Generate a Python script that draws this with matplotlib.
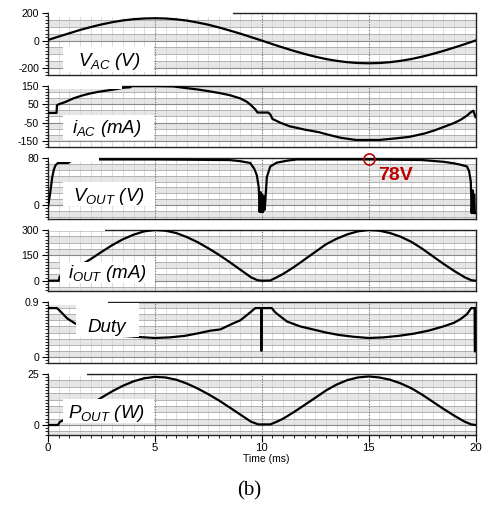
import matplotlib
matplotlib.use("Agg")
import matplotlib.pyplot as plt
import numpy as np
from matplotlib.patches import Rectangle

plt.rcParams["font.family"] = ["Liberation Sans", "DejaVu Sans"]
plt.rcParams["mathtext.fontset"] = "custom"
plt.rcParams["mathtext.it"] = "Liberation Sans:italic"
plt.rcParams["mathtext.rm"] = "Liberation Sans"

# ---- waveforms (time in ms) ----
t_vac = [0, 0.5, 1, 1.5, 2, 2.5, 3, 3.5, 4, 4.5, 5, 5.5, 6, 6.5, 7, 7.5, 8, 8.5, 9, 9.5,
         10, 10.5, 11, 11.5, 12, 12.5, 13, 13.5, 14, 14.5, 15, 15.5, 16, 16.5, 17, 17.5,
         18, 18.5, 19, 19.5, 20]
v_ac = [4, 29, 53, 77, 98, 117, 133, 146, 155, 160, 162, 160, 154, 145, 131, 115, 95, 73, 50, 25,
        0, -26, -51, -75, -97, -117, -134, -147, -157, -163, -165, -163, -157, -147, -134, -117,
        -97, -75, -51, -26, 0]

t_iac = [0, 0.4, 0.42, 0.5, 0.8, 1.2, 1.6, 2.0, 2.4, 2.8, 3.2, 3.5, 3.85, 3.9, 4.5, 5.0, 5.5,
         5.85, 6.3, 7.0, 7.5, 8.0, 8.5, 9.0, 9.3, 9.5, 9.7, 9.8, 10.0, 10.3, 10.4, 10.5, 10.9,
         11.3, 12.0, 12.7, 13.0, 13.7, 14.4, 15.5, 16.2, 16.9, 17.6, 18.1, 18.6, 19.0, 19.3,
         19.6, 19.76, 19.9, 20]
i_ac = [3, 3, 45, 50, 62, 83, 98, 110, 119, 126, 133, 140, 143, 150, 150, 150, 149,
        148, 141, 131, 122, 112, 100, 82, 64, 45, 22, 5, 5, 5, -5, -30, -52,
        -70, -88, -103, -113, -133, -145, -145, -137, -128, -110, -92, -70, -52, -35,
        -12, 5, 15, -20]

t_vout = [0, 0.1, 0.2, 0.27, 0.35, 0.47, 0.94, 1.1, 2.4, 5, 8.5, 9.0, 9.46, 9.65, 9.77, 9.86,
          9.9, 9.94, 9.98, 10.02, 10.06, 10.1, 10.14, 10.24, 10.4, 10.7, 11.2, 11.65, 15,
          17.5, 18.5, 18.97, 19.3, 19.6, 19.7, 19.78, 19.82, 19.86, 19.9, 19.94, 19.97, 20]
v_out = [-3, 20, 48, 60, 68, 72, 72, 76, 78, 78, 77, 75, 72, 62, 51, 30,
         -12, 22, -12, 18, -12, 15, -8, 48, 66, 72.5, 76, 78, 78,
         77, 74, 71.5, 69, 66, 58, 40, -14, 25, -14, 18, -14, -14]

t_iout = [0, 0.5, 0.55, 1.0, 1.5, 2.0, 2.5, 3.0, 3.5, 4.0, 4.5, 5.0, 5.5, 6.0, 6.5, 7.0, 7.5,
          8.0, 8.5, 9.0, 9.5, 9.8, 10.0, 10.4, 10.7, 11.0, 11.5, 12.0, 12.5, 13.0, 13.5, 14.0,
          14.5, 15.0, 15.5, 16.0, 16.5, 17.0, 17.5, 18.0, 18.5, 19.0, 19.5, 19.8, 20]
i_out = [0, 0, 25, 55, 90, 128, 170, 210, 245, 272, 292, 300, 296, 282, 258, 228, 192,
         153, 110, 65, 20, 3, 0, 1, 20, 40, 80, 125, 170, 215, 248, 274,
         292, 300, 296, 282, 260, 230, 190, 145, 100, 58, 20, 3, 0]

t_duty = [0, 0.42, 0.6, 0.9, 1.26, 1.8, 2.3, 2.8, 3.5, 4.3, 5.0, 5.7, 6.4, 7.0, 7.6, 8.06, 8.6,
          9.0, 9.46, 9.7, 9.97, 9.98, 10.0, 10.47, 10.63, 11.18, 11.8, 12.4, 13.0, 13.6, 14.3,
          15.0, 15.7, 16.4, 17.1, 17.8, 18.5, 19.0, 19.3, 19.6, 19.8, 19.96, 19.97, 19.99, 20]
duty = [0.8, 0.8, 0.74, 0.63, 0.55, 0.47, 0.41, 0.375, 0.345, 0.325, 0.31, 0.32, 0.345, 0.385,
        0.43, 0.45, 0.54, 0.6, 0.73, 0.8, 0.8, 0.1, 0.8, 0.8, 0.73, 0.58, 0.5, 0.45, 0.4, 0.36,
        0.33, 0.31, 0.32, 0.345, 0.38, 0.43, 0.5, 0.56, 0.62, 0.7, 0.8, 0.8, 0.09, 0.09, 0.8]

t_pout = [0, 0.47, 0.55, 1.0, 1.5, 2.0, 2.5, 3.0, 3.5, 4.0, 4.5, 5.0, 5.5, 6.0, 6.5, 7.0, 7.5,
          8.0, 8.5, 9.0, 9.5, 9.84, 10.4, 10.7, 11.0, 11.5, 12.0, 12.5, 13.0, 13.5, 14.0, 14.5,
          15.0, 15.5, 16.0, 16.5, 17.0, 17.5, 18.0, 18.5, 19.0, 19.5, 19.8, 20]
p_out = [0, 0, 1.5, 3.8, 6.8, 10, 13.4, 16.5, 19.2, 21.4, 22.9, 23.6, 23.3, 22.2, 20.3, 17.9, 15.1,
         12, 8.6, 5.1, 1.6, 0.3, 0.3, 1.6, 3.1, 6.3, 9.8, 13.3, 16.9, 19.8, 22, 23.3,
         23.8, 23.3, 22.2, 20.4, 18, 14.9, 11.4, 7.9, 4.6, 1.6, 0.3, 0]

x_ticks = [0, 5, 10, 15, 20]

# ---- layout (pixels of a 488x505 image) ----
W, H = 488, 505
X0, X1 = 48, 475.5

panels = [
    dict(t=t_vac, y=v_ac, top=13, bot=75, ylim=(-211, 200), ticks=[200, 0, -200], step=50,
         label=r"$V_{AC}$ (V)", box=(63, 47, 154, 72), txt=(78, 66), cover=(49, 5, 233, 17)),
    dict(t=t_iac, y=i_ac, top=86, bot=147, ylim=(-155, 150), ticks=[150, 50, -50, -150],
         step=100 / 3, label=r"$i_{AC}$ (mA)", box=(63, 115, 154, 140), txt=(72, 133),
         cover=(49, 79, 122, 89)),
    dict(t=t_vout, y=v_out, top=158, bot=219, ylim=(-24, 80.5), ticks=[80, 0], step=10,
         label=r"$V_{OUT}$ (V)", box=(63, 182, 155, 206), txt=(73, 201), cover=(49, 151, 99, 162)),
    dict(t=t_iout, y=i_out, top=230, bot=291, ylim=(-61, 300), ticks=[300, 150, 0], step=37.5,
         label=r"$i_{OUT}$ (mA)", box=(60, 262, 155, 283), txt=(68, 278), cover=(49, 223, 105, 231)),
    dict(t=t_duty, y=duty, top=302, bot=363, ylim=(-0.02, 0.9), ticks=[0.9, 0], step=0.1,
         label="Duty", box=(76, 303, 139, 337), txt=(87, 331.5), cover=(49, 295, 108, 305)),
    dict(t=t_pout, y=p_out, top=374, bot=435, ylim=(-4.9, 25), ticks=[25, 0], step=3.125,
         label=r"$P_{OUT}$ (W)", box=(63, 399, 154, 423), txt=(68, 418), cover=(49, 367, 87, 376)),
]

fig = plt.figure(figsize=(W / 100, H / 100), dpi=100)


def frect(x0, y0, x1, y1, z):
    r = Rectangle((x0 / W, 1 - y1 / H), (x1 - x0) / W, (y1 - y0) / H,
                  transform=fig.transFigure, fc="white", ec="none", zorder=z)
    fig.patches.append(r)


axes = []
for k, p in enumerate(panels):
    ax = fig.add_axes([X0 / W, 1 - p["bot"] / H, (X1 - X0) / W, (p["bot"] - p["top"]) / H])
    lo, hi = p["ylim"]
    ax.set_xlim(0, 20)
    ax.set_ylim(lo, hi)

    # striped background + grid
    base = p["ticks"][-1]
    n0 = int(np.floor((lo - base) / p["step"])) - 1
    n1 = int(np.ceil((hi - base) / p["step"])) + 1
    for n in range(n0, n1):
        y0 = base + n * p["step"]
        if n % 2 == 0:
            ax.axhspan(y0, y0 + p["step"], color="#e6e6e6", lw=0, zorder=0)
        ax.axhline(y0, color="#a8a8a8", lw=0.6, zorder=0.5)
    for tm in np.arange(0.5, 20, 0.5):
        ax.axvline(tm, color="#d6d6d6", lw=0.6, zorder=0.4)
    for yt in p["ticks"]:
        ax.axhline(yt, color="#8a8a8a", lw=0.8, zorder=0.6)
    for tm in [5, 10, 15]:
        ax.axvline(tm, color="#7a7a7a", lw=0.8, ls=(0, (1, 1.5)), zorder=0.7)

    ax.plot(p["t"], p["y"], color="black", lw=1.6, zorder=3)

    ax.set_yticks(p["ticks"])
    ax.set_yticklabels([("%g" % v) for v in p["ticks"]], fontsize=7.6)
    ax.set_yticks(np.arange(base + n0 * p["step"] / 2, hi, p["step"] / 2), minor=True)
    ax.tick_params(axis="y", which="major", direction="out", length=4, width=0.8, pad=2.5)
    ax.tick_params(axis="y", which="minor", direction="out", length=2, width=0.6)
    for s in ax.spines.values():
        s.set_linewidth(1.0)
        s.set_color("#222222")

    if k < len(panels) - 1:
        ax.set_xticks([])
    else:
        ax.set_xticks(x_ticks)
        ax.set_xticks(np.arange(0, 20.01, 0.5), minor=True)
        ax.tick_params(axis="x", which="major", direction="out", length=5, width=0.8,
                       pad=1, labelsize=8.2)
        ax.tick_params(axis="x", which="minor", direction="out", length=2.5, width=0.6)

    frect(*p["cover"], z=4)
    frect(*p["box"], z=5)
    fig.text(p["txt"][0] / W, 1 - p["txt"][1] / H, p["label"], fontsize=13.5,
             fontstyle="italic", va="baseline", ha="left", zorder=6)
    axes.append(ax)

# 78V marker on V_OUT
axes[2].plot([15], [78], marker="o", ms=8, mfc="none", mec="#c00000", mew=1.2,
             clip_on=False, zorder=7)
fig.text(378 / W, 1 - 180.5 / H, "78V", color="#c00000", fontsize=14, fontweight="bold",
         va="baseline", ha="left", zorder=7)

fig.text(266 / W, 1 - 462.5 / H, "Time (ms)", fontsize=7.5, ha="center", va="baseline")
fig.text(249 / W, 1 - 495 / H, "(b)", fontsize=15, ha="center", va="baseline",
         family=["Liberation Serif", "DejaVu Serif"])

fig.savefig("out.png", dpi=100)
